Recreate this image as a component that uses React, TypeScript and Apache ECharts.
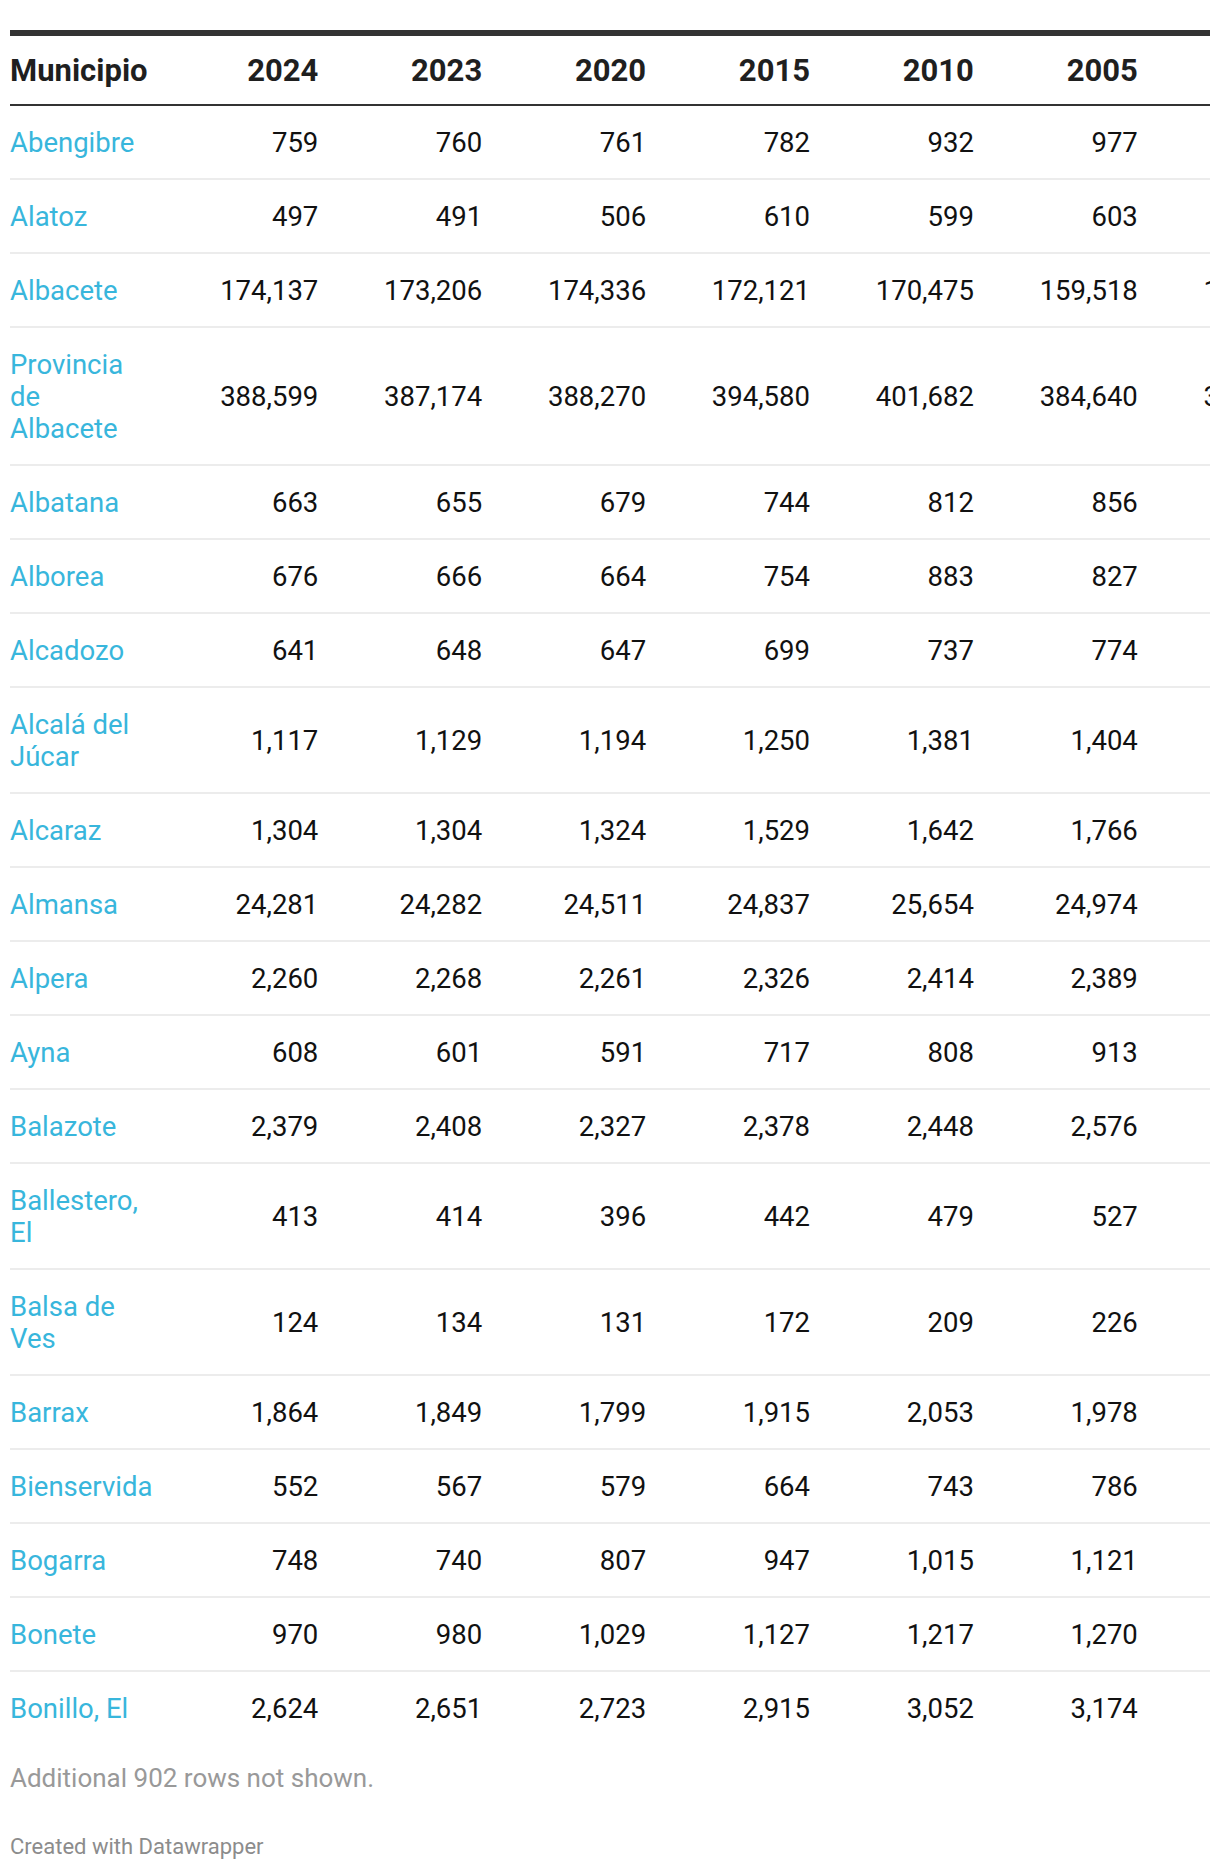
import React, { useEffect, useRef } from "react";
import * as echarts from "echarts";

// ---------- data ----------
const headerLabel = "Municipio";
const years = ["2024", "2023", "2020", "2015", "2010", "2005", "2000"];
const municipios = [
  "Abengibre", "Alatoz", "Albacete", "Provincia de Albacete", "Albatana", "Alborea",
  "Alcadozo", "Alcalá del Júcar", "Alcaraz", "Almansa", "Alpera", "Ayna", "Balazote",
  "Ballestero, El", "Balsa de Ves", "Barrax", "Bienservida", "Bogarra", "Bonete", "Bonillo, El",
];
const v2024 = [759, 497, 174137, 388599, 663, 676, 641, 1117, 1304, 24281, 2260, 608, 2379, 413, 124, 1864, 552, 748, 970, 2624];
const v2023 = [760, 491, 173206, 387174, 655, 666, 648, 1129, 1304, 24282, 2268, 601, 2408, 414, 134, 1849, 567, 740, 980, 2651];
const v2020 = [761, 506, 174336, 388270, 679, 664, 647, 1194, 1324, 24511, 2261, 591, 2327, 396, 131, 1799, 579, 807, 1029, 2723];
const v2015 = [782, 610, 172121, 394580, 744, 754, 699, 1250, 1529, 24837, 2326, 717, 2378, 442, 172, 1915, 664, 947, 1127, 2915];
const v2010 = [932, 599, 170475, 401682, 812, 883, 737, 1381, 1642, 25654, 2414, 808, 2448, 479, 209, 2053, 743, 1015, 1217, 3052];
const v2005 = [977, 603, 159518, 384640, 856, 827, 774, 1404, 1766, 24974, 2389, 913, 2576, 527, 226, 1978, 786, 1121, 1270, 3174];
// 2000 column is cut off by the frame; only leading digits of the two largest rows are visible (estimates)
const v2000 = [1010, 640, 148934, 364835, 884, 866, 822, 1540, 1864, 23948, 2298, 1000, 2560, 560, 250, 2030, 850, 1250, 1300, 3230];
const columns = [v2024, v2023, v2020, v2015, v2010, v2005, v2000];

const noteText = "Additional 902 rows not shown.";
const creditText = "Created with Datawrapper";

// ---------- layout / style ----------
const CHART_W = 1202;
const CHART_H = 1854;
const OFF = 8; // body margin
const FONT = "Roboto";
const BODY_SIZE = 27.5;
const HEAD_SIZE = 31;
const LINE_H = 32;
const ROW_BASE = 72;
const SEP = 2;
const NAME_MAX_W = 143.2;
const TXT_DY = 0.8;

const fmt = (n: number) => n.toLocaleString("en-US");

function wrap(text: string, ctx: CanvasRenderingContext2D | null): string[] {
  if (!ctx) return [text];
  const words = text.split(" ");
  const lines: string[] = [];
  let cur = "";
  for (const w of words) {
    const test = cur ? cur + " " + w : w;
    if (cur && ctx.measureText(test).width > NAME_MAX_W) {
      lines.push(cur);
      cur = w;
    } else {
      cur = test;
    }
  }
  if (cur) lines.push(cur);
  return lines;
}

function buildGraphics() {
  const canvas = document.createElement("canvas");
  const ctx = canvas.getContext("2d");
  const measure = (t: string, size: number, weight = "normal") => {
    if (!ctx) return 0;
    ctx.font = `${weight} ${size}px ${FONT}`;
    return ctx.measureText(t).width;
  };

  const left = 10 - OFF;
  const right = CHART_W;
  const colRight = (k: number) => 318.3 - OFF + 163.9 * k;
  const visible = (xRight: number, t: string, size: number, weight?: string) =>
    xRight - measure(t, size, weight) < CHART_W;
  const els: any[] = [];

  // top bar
  els.push({ type: "rect", shape: { x: left, y: 30 - OFF, width: right - left, height: 6 }, style: { fill: "#333333" }, silent: true });
  // header
  const headY = 70 - OFF;
  els.push({ type: "text", x: left, y: headY, style: { text: headerLabel, fontFamily: FONT, fontWeight: "bold", fontSize: HEAD_SIZE, fill: "#1f1f1f", align: "left", verticalAlign: "middle" }, silent: true });
  years.forEach((yr, k) => {
    if (!visible(colRight(k), yr, HEAD_SIZE, "bold")) return;
    els.push({ type: "text", x: colRight(k), y: headY, style: { text: yr, fontFamily: FONT, fontWeight: "bold", fontSize: HEAD_SIZE, fill: "#1f1f1f", align: "right", verticalAlign: "middle" }, silent: true });
  });
  els.push({ type: "rect", shape: { x: left, y: 104 - OFF, width: right - left, height: 2 }, style: { fill: "#333333" }, silent: true });

  // body rows
  let top = 106 - OFF;
  municipios.forEach((name, i) => {
    if (ctx) ctx.font = `${BODY_SIZE}px ${FONT}`;
    const lines = wrap(name, ctx);
    const h = ROW_BASE + LINE_H * (lines.length - 1);
    const cy = top + h / 2 + TXT_DY;
    els.push({ type: "text", x: left, y: cy, style: { text: lines.join("\n"), fontFamily: FONT, fontSize: BODY_SIZE, lineHeight: LINE_H, fill: "#38b6dc", align: "left", verticalAlign: "middle" }, silent: true });
    columns.forEach((col, k) => {
      const t = fmt(col[i]);
      if (!visible(colRight(k), t, BODY_SIZE)) return;
      els.push({ type: "text", x: colRight(k), y: cy, style: { text: t, fontFamily: FONT, fontSize: BODY_SIZE, fill: "#111111", align: "right", verticalAlign: "middle" }, silent: true });
    });
    top += h;
    if (i < municipios.length - 1) {
      els.push({ type: "rect", shape: { x: left, y: top, width: right - left, height: SEP }, style: { fill: "#ececec" }, silent: true });
      top += SEP;
    }
  });

  // notes
  els.push({ type: "text", x: left, y: 1778.4 - OFF, style: { text: noteText, fontFamily: FONT, fontSize: 26, fill: "#999999", align: "left", verticalAlign: "middle" }, silent: true });
  els.push({ type: "text", x: left, y: 1846.5 - OFF, style: { text: creditText, fontFamily: FONT, fontSize: 22, fill: "#8c8c8c", align: "left", verticalAlign: "middle" }, silent: true });
  return els;
}

export default function App() {
  const ref = useRef<HTMLDivElement>(null);
  useEffect(() => {
    if (!ref.current) return;
    const chart = echarts.init(ref.current, undefined, { renderer: "svg" });
    chart.setOption({
      animation: false,
      backgroundColor: "#ffffff",
      graphic: { elements: buildGraphics() },
    });
    return () => chart.dispose();
  }, []);
  return <div ref={ref} style={{ width: CHART_W, height: CHART_H }} />;
}
